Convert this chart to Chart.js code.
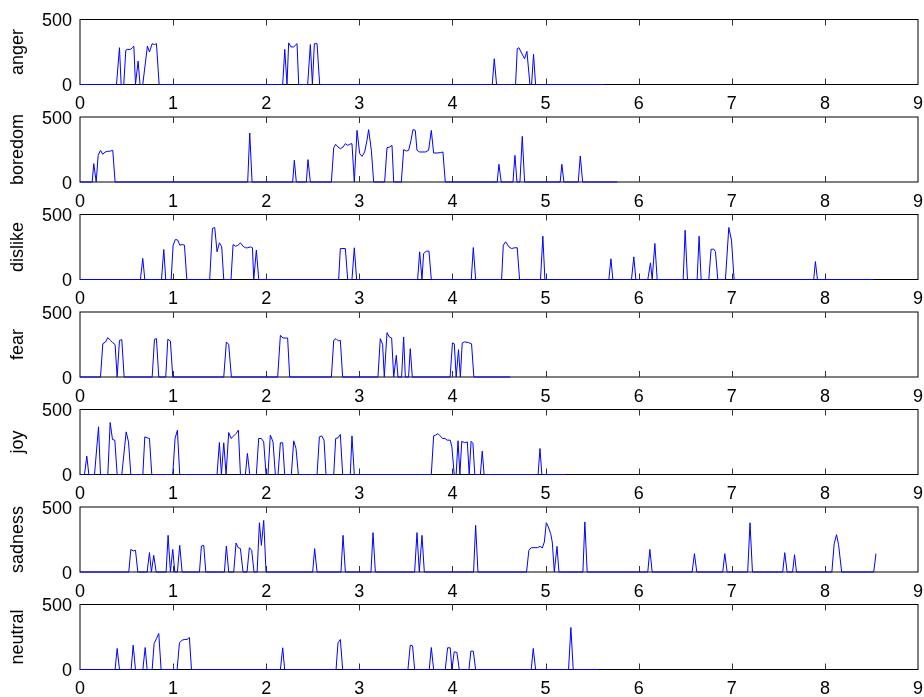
<!DOCTYPE html>
<html>
<head>
<meta charset="utf-8">
<script src="https://cdn.jsdelivr.net/npm/chart.js@4"></script>
<style>
  body { margin: 0; background: #fff; }
  #wrap { position: relative; width: 924px; height: 697px; overflow: hidden; }
  #wrap canvas { position: absolute; left: 0; }
</style>
</head>
<body>
<div id="wrap"></div>
<script>
'use strict';

// panel names, top to bottom
let emotions = ['anger', 'boredom', 'dislike', 'fear', 'joy', 'sadness', 'neutral'];
let xTicks = [0, 1, 2, 3, 4, 5, 6, 7, 8, 9];
let yTicks = [0, 500];

let angerX = [0,
    0.392, 0.424, 0.442,
    0.470, 0.492, 0.506, 0.542, 0.563, 0.578, 0.596,
    0.624, 0.645,
    0.674, 0.724, 0.746, 0.775, 0.800, 0.821, 0.850,
    2.177, 2.199, 2.223, 2.241, 2.266, 2.295, 2.331, 2.349,
    2.445, 2.474, 2.496, 2.517, 2.546, 2.574,
    4.428, 4.449, 4.474,
    4.678, 4.696, 4.714, 4.742, 4.775, 4.800, 4.832, 4.850, 4.871, 4.893,
    5.626];
let angerY = [0,
    0, 283, 0,
    0, 263, 270, 270, 283, 296, 0,
    180, 0,
    0, 296, 250, 314, 307, 314, 0,
    0, 270, 0, 320, 289, 289, 314, 0,
    0, 307, 0, 314, 314, 0,
    0, 198, 0,
    0, 276, 283, 242, 198, 255, 0, 0, 232, 0,
    0];

let boredomX = [0,
    0.131, 0.148, 0.174,
    0.195, 0.220, 0.245, 0.270, 0.299, 0.327, 0.352, 0.377,
    1.801, 1.823, 1.848,
    2.284, 2.302, 2.323,
    2.431, 2.449, 2.474,
    2.700, 2.725, 2.746, 2.771, 2.796, 2.825, 2.850, 2.875, 2.896, 2.921, 2.946,
    2.975, 3.004, 3.029, 3.057, 3.082, 3.100, 3.129, 3.154,
    3.272, 3.297, 3.326, 3.351, 3.369,
    3.451, 3.476, 3.505, 3.530, 3.555, 3.576, 3.601, 3.619, 3.648, 3.673, 3.709, 3.744, 3.773, 3.798, 3.834, 3.870, 3.898, 3.923,
    4.481, 4.499, 4.524,
    4.650, 4.671, 4.693, 4.725, 4.750, 4.775,
    5.157, 5.175, 5.197,
    5.351, 5.373, 5.398,
    5.769];
let boredomY = [0,
    0, 141, 0,
    205, 244, 213, 231, 236, 238, 244, 0,
    0, 377, 0,
    0, 167, 0,
    0, 172, 0,
    0, 264, 290, 269, 256, 269, 295, 282, 290, 295, 0,
    397, 218, 197, 231, 320, 403, 244, 0,
    0, 264, 269, 282, 0,
    0, 249, 238, 244, 320, 403, 397, 244, 231, 231, 231, 244, 397, 223, 223, 226, 231, 0,
    0, 136, 0,
    0, 205, 0, 0, 351, 0,
    0, 136, 0,
    0, 200, 0,
    0];

let dislikeX = [0,
    0.649, 0.674, 0.696,
    0.875, 0.900, 0.921,
    0.979, 1.000, 1.025, 1.050, 1.072, 1.097, 1.122, 1.147,
    1.393, 1.422, 1.447, 1.472, 1.497, 1.522, 1.544,
    1.622, 1.644, 1.669, 1.694, 1.723, 1.751, 1.776, 1.801, 1.830, 1.852, 1.866, 1.894, 1.920,
    2.778, 2.796, 2.850, 2.875,
    2.921, 2.946, 2.971,
    3.626, 3.648, 3.673, 3.690, 3.719, 3.748, 3.773,
    4.202, 4.224, 4.249,
    4.528, 4.546, 4.571, 4.606, 4.635, 4.667, 4.696, 4.721,
    4.946, 4.971, 4.993,
    5.680, 5.702, 5.723,
    5.923, 5.948, 5.970,
    6.098, 6.127, 6.145, 6.174, 6.199,
    6.478, 6.499, 6.524,
    6.628, 6.649, 6.671,
    6.753, 6.778, 6.807, 6.825, 6.850,
    6.932, 6.968, 6.997, 7.025,
    7.880, 7.898, 7.920,
    8.524];
let dislikeY = [0,
    0, 162, 0,
    0, 231, 0,
    0, 264, 308, 303, 264, 269, 264, 0,
    0, 392, 400, 213, 282, 251, 0,
    0, 269, 256, 262, 282, 256, 244, 244, 251, 244, 0, 226, 0,
    0, 238, 238, 0,
    0, 244, 0,
    0, 213, 0, 200, 218, 218, 0,
    0, 246, 0,
    0, 264, 290, 251, 238, 244, 244, 0,
    0, 333, 0,
    0, 159, 0,
    0, 174, 0,
    0, 128, 0, 277, 0,
    0, 379, 0,
    0, 333, 0,
    0, 233, 233, 213, 0,
    0, 400, 303, 0,
    0, 138, 0,
    0];

let fearX = [0,
    0.220, 0.245, 0.274, 0.299, 0.327, 0.352, 0.377, 0.399, 0.424, 0.449, 0.474,
    0.775, 0.800, 0.821, 0.846,
    0.921, 0.943, 0.971, 0.996,
    1.544, 1.572, 1.597, 1.626,
    2.123, 2.152, 2.180, 2.209, 2.230, 2.252,
    2.700, 2.725, 2.750, 2.775, 2.796, 2.821,
    3.200, 3.225, 3.250, 3.268, 3.297, 3.322, 3.347, 3.369, 3.397, 3.415,
    3.454, 3.476, 3.494, 3.529, 3.547, 3.569,
    3.975, 4.000, 4.020, 4.040, 4.065, 4.085, 4.105, 4.130, 4.170, 4.205, 4.230,
    4.620];
let fearY = [0,
    0, 256, 269, 303, 282, 264, 249, 0, 282, 287, 0,
    0, 290, 295, 0,
    0, 290, 277, 0,
    0, 269, 251, 0,
    0, 321, 300, 300, 300, 0,
    0, 282, 295, 277, 282, 0,
    0, 295, 251, 0, 341, 308, 300, 0, 167, 0,
    0, 308, 0, 0, 218, 0,
    0, 262, 255, 0, 210, 0, 262, 270, 265, 255, 0,
    0];

let joyX = [0,
    0.048, 0.073, 0.095,
    0.156, 0.199, 0.220,
    0.299, 0.324, 0.349, 0.374, 0.399,
    0.449, 0.496, 0.521, 0.546,
    0.675, 0.696, 0.721, 0.746, 0.771,
    0.996, 1.021, 1.046, 1.071,
    1.472, 1.497, 1.519, 1.544, 1.569, 1.597, 1.622, 1.651, 1.676, 1.701, 1.723,
    1.776, 1.798, 1.823,
    1.894, 1.919, 1.948, 1.973, 1.998,
    2.019, 2.044, 2.073, 2.098,
    2.127, 2.152, 2.177, 2.198,
    2.270, 2.295, 2.320, 2.345,
    2.546, 2.571, 2.596, 2.621, 2.642,
    2.725, 2.746, 2.771, 2.796, 2.821,
    2.903, 2.921, 2.946,
    3.773, 3.798, 3.819, 3.844, 3.869, 3.894, 3.919, 3.944, 3.976, 3.994, 4.019,
    4.040, 4.060, 4.080, 4.100, 4.130, 4.160, 4.180, 4.200, 4.220, 4.240,
    4.300, 4.320, 4.340,
    4.920, 4.940, 4.960,
    5.210];
let joyY = [0,
    0, 141, 0,
    0, 367, 0,
    0, 400, 269, 264, 0,
    0, 328, 251, 0,
    0, 290, 282, 277, 0,
    0, 277, 341, 0,
    0, 246, 0, 244, 0, 323, 277, 297, 315, 341, 0,
    0, 162, 0,
    0, 277, 277, 251, 0,
    0, 303, 251, 0,
    0, 244, 244, 0,
    0, 259, 200, 0,
    0, 290, 297, 264, 0,
    0, 277, 282, 308, 0,
    0, 297, 0,
    0, 297, 303, 315, 297, 277, 277, 264, 264, 213, 0,
    0, 260, 0, 255, 245, 250, 0, 255, 240, 0,
    0, 180, 0,
    0, 200, 0,
    0];

let sadnessX = [0,
    0.524, 0.546, 0.571, 0.596, 0.621,
    0.721, 0.746, 0.767, 0.792, 0.818,
    0.925, 0.946, 0.971, 0.996, 1.018, 1.046, 1.071, 1.097,
    1.283, 1.304, 1.329, 1.351,
    1.551, 1.572, 1.597,
    1.651, 1.676, 1.698, 1.723, 1.751,
    1.794, 1.819, 1.844, 1.869,
    1.902, 1.927, 1.948, 1.973, 1.998,
    2.499, 2.520, 2.546,
    2.803, 2.825, 2.850,
    3.125, 3.147, 3.172,
    3.594, 3.619, 3.644, 3.673, 3.698,
    4.227, 4.249, 4.274,
    4.796, 4.821, 4.846, 4.875, 4.911, 4.940, 4.965, 4.987, 5.008, 5.030, 5.055, 5.072, 5.094, 5.123, 5.144,
    5.401, 5.422, 5.447,
    6.098, 6.120, 6.145,
    6.574, 6.599, 6.624,
    6.903, 6.925, 6.950,
    7.171, 7.196, 7.222,
    7.547, 7.569, 7.594,
    7.653, 7.674, 7.695,
    8.075, 8.100, 8.125, 8.147, 8.180,
    8.524, 8.549];
let sadnessY = [0,
    0, 174, 162, 167, 0,
    0, 149, 0, 128, 0,
    0, 282, 0, 174, 0, 0, 205, 0,
    0, 200, 205, 0,
    0, 200, 0,
    0, 223, 187, 180, 0,
    0, 187, 167, 0,
    0, 379, 205, 397, 0,
    0, 180, 0,
    0, 282, 0,
    0, 303, 0,
    0, 303, 0, 282, 0,
    0, 359, 0,
    0, 167, 187, 187, 187, 197, 185, 231, 379, 346, 295, 231, 0, 197, 0,
    0, 385, 0,
    0, 174, 0,
    0, 141, 0,
    0, 141, 0,
    0, 379, 0,
    0, 149, 0,
    0, 133, 0,
    0, 218, 287, 210, 0,
    0, 141];

let neutralX = [0,
    0.377, 0.399, 0.424,
    0.549, 0.571, 0.596,
    0.675, 0.700, 0.721,
    0.775, 0.796, 0.821, 0.846, 0.871,
    1.043, 1.068, 1.097, 1.125, 1.150, 1.175, 1.197,
    2.152, 2.177, 2.198,
    2.750, 2.771, 2.796, 2.821,
    3.522, 3.547, 3.572, 3.594,
    3.751, 3.773, 3.798,
    3.923, 3.948, 3.976, 3.994, 4.019, 4.048, 4.073,
    4.177, 4.198, 4.224, 4.249,
    4.846, 4.868, 4.893,
    5.247, 5.272, 5.297,
    5.572];
let neutralY = [0,
    0, 162, 0,
    0, 187, 0,
    0, 169, 0,
    0, 200, 238, 277, 0,
    0, 205, 226, 231, 231, 246, 0,
    0, 167, 0,
    0, 205, 231, 0,
    0, 187, 182, 0,
    0, 169, 0,
    0, 167, 167, 0, 136, 131, 0,
    0, 141, 141, 0,
    0, 162, 0,
    0, 323, 0,
    0];

let seriesX = [angerX, boredomX, dislikeX, fearX, joyX, sadnessX, neutralX];
let seriesY = [angerY, boredomY, dislikeY, fearY, joyY, sadnessY, neutralY];

Chart.defaults.font.family = '"Liberation Sans", Arial, Helvetica, sans-serif';
Chart.defaults.font.size = 18;
Chart.defaults.color = '#000';

let wrap = document.getElementById('wrap');
let plotHeight = 65;
let firstTop = 19.5;
let rowStep = 97.5;
let canvasHeight = 122;

// MATLAB style box with inward ticks
let boxPlugin = {
    id: 'box',
    beforeDatasetsDraw(chart) {
        let ctx = chart.ctx;
        let a = chart.chartArea;
        let xs = chart.scales.x;
        ctx.save();
        ctx.strokeStyle = '#000';
        ctx.lineWidth = 1;
        ctx.strokeRect(a.left, a.top, a.right - a.left, a.bottom - a.top);
        ctx.strokeStyle = '#333';
        ctx.beginPath();
        for (let i = 1; i < xTicks.length - 1; i++) {
            let px = Math.round(xs.getPixelForValue(xTicks[i])) + 0.5;
            ctx.moveTo(px, a.bottom);
            ctx.lineTo(px, a.bottom - 6);
            ctx.moveTo(px, a.top);
            ctx.lineTo(px, a.top + 6);
        }
        ctx.stroke();
        ctx.restore();
    }
};

for (let i = 0; i < emotions.length; i++) {
    let areaTop = firstTop + rowStep * i;
    let canvasTop = Math.floor(areaTop - 19);
    let padTop = areaTop - canvasTop;

    let cv = document.createElement('canvas');
    cv.width = 924;
    cv.height = canvasHeight;
    cv.style.top = canvasTop + 'px';
    wrap.appendChild(cv);

    let points = [];
    for (let j = 0; j < seriesX[i].length; j++) {
        points.push({ x: seriesX[i][j], y: seriesY[i][j] });
    }

    new Chart(cv.getContext('2d'), {
        type: 'line',
        data: {
            datasets: [{
                data: points,
                borderColor: '#0000ff',
                borderWidth: 1,
                pointRadius: 0,
                tension: 0,
                fill: false,
                clip: false
            }]
        },
        options: {
            responsive: false,
            animation: false,
            events: [],
            layout: { padding: { top: padTop, right: 6, left: 0, bottom: 0 } },
            plugins: { legend: { display: false }, tooltip: { enabled: false } },
            scales: {
                x: {
                    type: 'linear',
                    min: xTicks[0],
                    max: xTicks[xTicks.length - 1],
                    afterBuildTicks: (s) => { s.ticks = xTicks.map(v => ({ value: v })); },
                    afterFit: (s) => {
                        s.height = canvasHeight - padTop - plotHeight;
                        s.paddingLeft = 0;
                        s.paddingRight = 0;
                    },
                    grid: { display: false, drawTicks: false },
                    border: { display: false },
                    ticks: { padding: 9, autoSkip: false, maxRotation: 0 }
                },
                y: {
                    min: yTicks[0],
                    max: yTicks[yTicks.length - 1],
                    afterBuildTicks: (s) => { s.ticks = yTicks.map(v => ({ value: v })); },
                    afterFit: (s) => {
                        s.width = 80;
                        s.paddingTop = 0;
                        s.paddingBottom = 0;
                    },
                    grid: { display: false, drawTicks: false },
                    border: { display: false },
                    ticks: { padding: 8, labelOffset: 2 },
                    title: { display: true, text: emotions[i], padding: { top: 7, bottom: 0 } }
                }
            }
        },
        plugins: [boxPlugin]
    });
}
</script>
</body>
</html>
